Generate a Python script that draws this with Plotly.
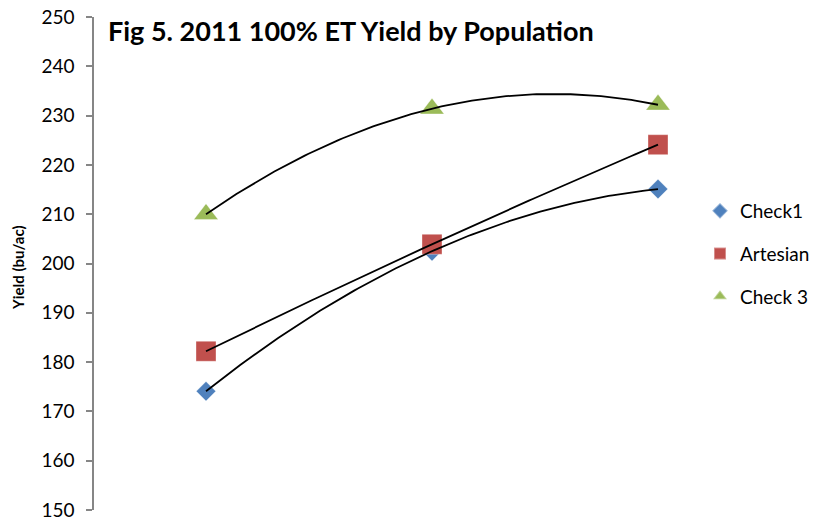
import numpy as np
import plotly.graph_objects as go

populations = [1, 2, 3]
check1 = [174.1, 202.5, 215.1]
artesian = [182.2, 203.9, 224.1]
check3 = [210.0, 231.4, 232.2]

series_names = ["Check1", "Artesian", "Check 3"]
series_vals = [check1, artesian, check3]
colors = ["#4F81BD", "#C0504D", "#9BBB59"]
symbols = ["diamond", "square", "triangle-up"]
sizes = [15, 20, 21]

y_ticks = list(range(150, 251, 10))

FONT = "Lato"
W, H = 819, 521
ML, MR, MT, MB = 94, 0, 17, 11
PW, PH = W - ML - MR, H - MT - MB

fig = go.Figure()

for i, (name, vals, c, s, sz) in enumerate(zip(series_names, series_vals, colors, symbols, sizes)):
    fig.add_trace(go.Scatter(
        x=populations, y=vals, mode="markers", name=name, legendgroup=f"g{i}",
        marker=dict(color=c, symbol=s, size=sz,
                    line=dict(color="rgba(255,255,255,0.35)", width=1)),
    ))

for vals in series_vals:
    coef = np.polyfit(populations, vals, 2)
    xs = np.linspace(populations[0], populations[-1], 120)
    ys = np.polyval(coef, xs)
    fig.add_trace(go.Scatter(x=xs, y=ys, mode="lines", showlegend=False,
                             line=dict(color="black", width=1.8), hoverinfo="skip"))

# x range chosen so the three population levels land where the reference puts them
x0 = 1 - (206 - ML) / 226
x1 = 3 + (W - MR - 658) / 226

fig.update_layout(
    width=W, height=H,
    margin=dict(l=ML, r=MR, t=MT, b=MB, autoexpand=False),
    plot_bgcolor="white", paper_bgcolor="white",
    font=dict(family=FONT, size=18, color="black"),
    showlegend=True,
    legend=dict(x=(700 - ML) / PW, xanchor="left",
                y=(H - MB - 254) / PH, yanchor="middle",
                font=dict(family=FONT, size=19), itemsizing="constant",
                tracegroupgap=15, bgcolor="rgba(0,0,0,0)"),
    xaxis=dict(range=[x0, x1], visible=False),
    yaxis=dict(range=[150, 250], tickvals=y_ticks, showgrid=False,
               showline=True, linecolor="#868686", linewidth=1.5,
               ticks="outside", ticklen=6, tickcolor="#868686", tickwidth=1.5,
               tickfont=dict(family=FONT, size=19), ticklabelstandoff=8,
               zeroline=False, automargin=False),
)

fig.add_annotation(text="<b>Fig 5. 2011 100% ET Yield by Population</b>",
                   xref="paper", yref="paper", x=(106 - ML) / PW, xanchor="left",
                   y=(H - MB - 31) / PH, yanchor="middle",
                   showarrow=False, font=dict(family=FONT, size=27, color="black"))

fig.add_annotation(text="<b>Yield (bu/ac)</b>", xref="paper", yref="paper",
                   x=-(ML - 18) / PW, xanchor="center",
                   y=(H - MB - 268) / PH, yanchor="middle",
                   textangle=-90, showarrow=False,
                   font=dict(family=FONT, size=15, color="black"))

fig.write_html("out.html")
